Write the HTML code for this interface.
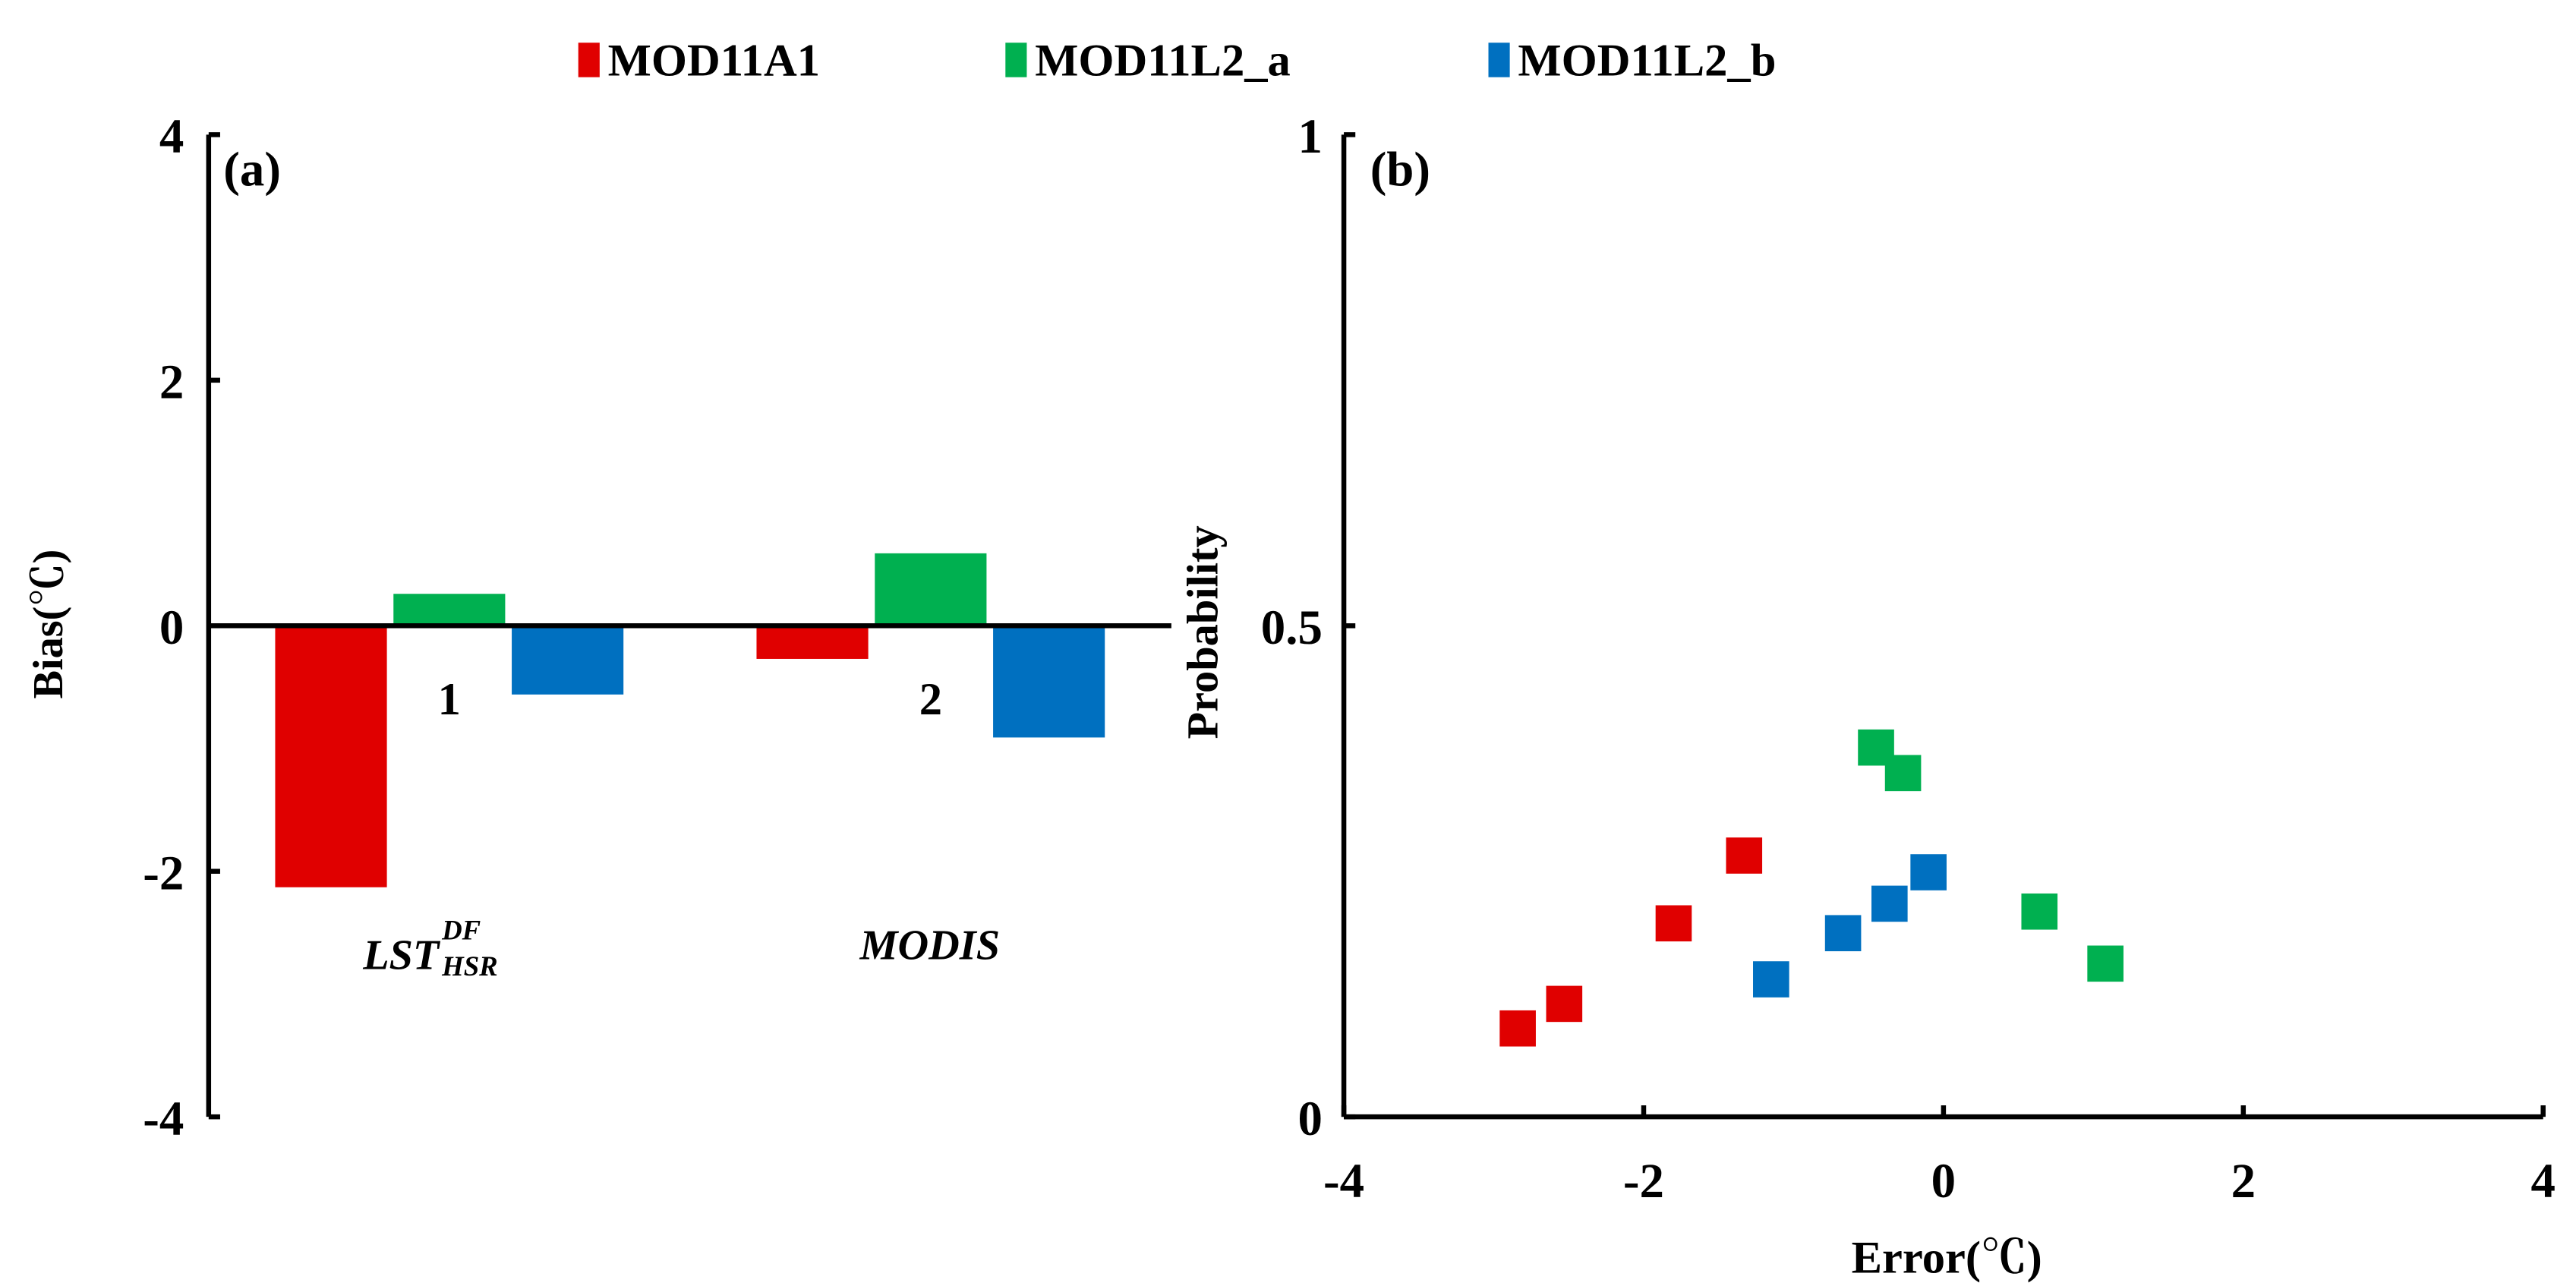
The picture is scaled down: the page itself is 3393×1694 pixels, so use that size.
<!DOCTYPE html>
<html><head><meta charset="utf-8"><style>
html,body{margin:0;padding:0;background:#fff}
svg{display:block}
text{font-family:"Liberation Serif","Noto Serif CJK SC",serif;font-weight:bold;fill:#000}
</style></head><body>
<svg id="chart" width="3393" height="1694" viewBox="0 0 1568 783" preserveAspectRatio="none" xmlns="http://www.w3.org/2000/svg">
<g id="legend">
  <rect x="352" y="26" width="13" height="21" fill="#e00000"/>
  <text x="370" y="46" font-size="28">MOD11A1</text>
  <rect x="612" y="26" width="13" height="21" fill="#00b050"/>
  <text x="630" y="46" font-size="28">MOD11L2_a</text>
  <rect x="906" y="26" width="13" height="21" fill="#0070c0"/>
  <text x="924" y="46" font-size="28">MOD11L2_b</text>
</g>
<g id="pa"></g>
<g id="pb"></g>
</svg>
<script>
const barCategories = ["1", "2"];
const barMOD11A1 = [-2.13, -0.27];
const barMOD11L2a = [0.26, 0.59];
const barMOD11L2b = [-0.56, -0.91];
const biasTicks = [4, 2, 0, -2, -4];

const errA1 = [-2.84, -2.53, -1.80, -1.33];
const probA1 = [0.09, 0.115, 0.197, 0.266];
const errL2a = [-0.45, -0.27, 0.64, 1.08];
const probL2a = [0.376, 0.35, 0.209, 0.156];
const errL2b = [-1.15, -0.67, -0.36, -0.10];
const probL2b = [0.14, 0.187, 0.217, 0.249];
const errTicks = [-4, -2, 0, 2, 4];
const probTicks = [0, 0.5, 1];
const probTickLabels = ["0", "0.5", "1"];

const NS = "http://www.w3.org/2000/svg";
function mk(parent, tag, attrs, txt) {
  const e = document.createElementNS(NS, tag);
  for (const k in attrs) e.setAttribute(k, attrs[k]);
  if (txt !== undefined) e.textContent = txt;
  parent.appendChild(e);
  return e;
}
const colors = ["#e00000", "#00b050", "#0070c0"];
const seriesNames = ["mod11a1", "mod11l2-a", "mod11l2-b"];

// Panel A
const pa = document.getElementById("pa");
const ax0 = 127, ax1 = 713, yTop = 82, yBot = 680;
const ya = v => yTop + (4 - v) / 8 * (yBot - yTop);
const band = (ax1 - ax0) / barCategories.length;
const bw = 68, gap = 4;
let e;
e = mk(pa, "line", {x1: ax0, y1: yTop, x2: ax0, y2: yBot, stroke: "#000", "stroke-width": 3});


biasTicks.forEach(t => {
  const y = ya(t);
  const tk = mk(pa, "line", {x1: ax0, y1: y, x2: ax0 + 7, y2: y, stroke: "#000", "stroke-width": 3});
  
  
  const lb = mk(pa, "text", {x: 112, y: y + 11, "font-size": 30, "text-anchor": "end"}, String(t));
  
  
});
const allBars = [barMOD11A1, barMOD11L2a, barMOD11L2b];
barCategories.forEach((c, i) => {
  const cx = ax0 + band * (i + 0.5);
  allBars.forEach((arr, s) => {
    const v = arr[i];
    const x = cx + (s - 1) * (bw + gap) - bw / 2;
    const y0 = ya(0), y1 = ya(v);
    const r = mk(pa, "rect", {x: x, y: Math.min(y0, y1), width: bw, height: Math.abs(y1 - y0), fill: colors[s]});
    
    
  });
  const lb = mk(pa, "text", {x: cx, y: ya(0) + 54, "font-size": 28, "text-anchor": "middle"}, c);
  
  
});
e = mk(pa, "line", {x1: ax0, y1: ya(0), x2: ax1, y2: ya(0), stroke: "#000", "stroke-width": 3});


e = mk(pa, "text", {x: 136, y: 113, "font-size": 30}, "(a)");


e = mk(pa, "text", {x: 0, y: 0, "font-size": 26, "text-anchor": "middle", transform: "translate(38,380) rotate(-90)"}, "Bias(℃)");


e = mk(pa, "text", {x: 221, y: 590, "font-size": 26, "font-style": "italic"});


mk(e, "tspan", {}, "LST");
mk(e, "tspan", {x: 269, y: 572, "font-size": 17}, "DF");
mk(e, "tspan", {x: 269, y: 594, "font-size": 17}, "HSR");
e = mk(pa, "text", {x: 566, y: 584, "font-size": 26, "font-style": "italic", "text-anchor": "middle"}, "MODIS");



// Panel B
const pb = document.getElementById("pb");
const bx0 = 818, bx1 = 1548, byTop = 82, byBot = 680;
const xb = v => bx0 + (v + 4) / 8 * (bx1 - bx0);
const yb = v => byBot - v * (byBot - byTop);
e = mk(pb, "line", {x1: bx0, y1: byTop, x2: bx0, y2: byBot, stroke: "#000", "stroke-width": 3});


e = mk(pb, "line", {x1: bx0, y1: byBot, x2: bx1, y2: byBot, stroke: "#000", "stroke-width": 3});


probTicks.forEach((t, i) => {
  const y = yb(t);
  const tk = mk(pb, "line", {x1: bx0, y1: y, x2: bx0 + 7, y2: y, stroke: "#000", "stroke-width": 3});
  
  
  const lb = mk(pb, "text", {x: 805, y: y + 11, "font-size": 30, "text-anchor": "end"}, probTickLabels[i]);
  
  
});
errTicks.forEach(t => {
  const x = xb(t);
  const tk = mk(pb, "line", {x1: x, y1: byBot, x2: x, y2: byBot - 7, stroke: "#000", "stroke-width": 3});
  
  
  const lb = mk(pb, "text", {x: x, y: 729, "font-size": 30, "text-anchor": "middle"}, String(t));
  
  
});
const pts = [[errA1, probA1], [errL2a, probL2a], [errL2b, probL2b]];
pts.forEach((p, s) => {
  p[0].forEach((xv, i) => {
    const r = mk(pb, "rect", {x: xb(xv) - 11, y: yb(p[1][i]) - 11, width: 22, height: 22, fill: colors[s]});
    
    
  });
});
e = mk(pb, "text", {x: 834, y: 113, "font-size": 30}, "(b)");


e = mk(pb, "text", {x: 1185, y: 775, "font-size": 28, "text-anchor": "middle"}, "Error(℃)");


e = mk(pb, "text", {x: 0, y: 0, "font-size": 27, "text-anchor": "middle", transform: "translate(741,385) rotate(-90)"}, "Probability");


</script>
</body></html>
